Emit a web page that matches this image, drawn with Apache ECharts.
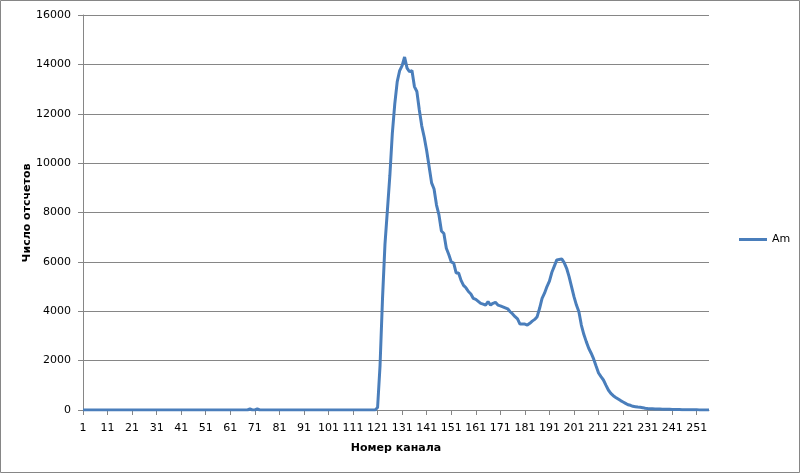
<!DOCTYPE html>
<html>
<head>
<meta charset="utf-8">
<script src="https://cdn.jsdelivr.net/npm/echarts@6/dist/echarts.min.js"></script>
<style>
html,body{margin:0;padding:0;background:#fff;}
#c{width:800px;height:474px;}
</style>
</head>
<body>
<div id="c"></div>
<script>
var seriesName = 'Am';
var xTitle = 'Номер канала';
var yTitle = 'Число отсчетов';
var yTicks = [0, 2000, 4000, 6000, 8000, 10000, 12000, 14000, 16000];
var counts = [
  0,0,0,0,0,0,0,0,0,0,
  0,0,0,0,0,0,0,0,0,0,
  0,0,0,0,0,0,0,0,0,0,
  0,0,0,0,0,0,0,0,0,0,
  0,0,0,0,0,0,0,0,0,0,
  0,0,0,0,0,0,0,0,0,0,
  0,0,0,0,0,0,0,0,40,0,
  0,40,0,0,0,0,0,0,0,0,
  0,0,0,0,0,0,0,0,0,0,
  0,0,0,0,0,0,0,0,0,0,
  0,0,0,0,0,0,0,0,0,0,
  0,0,0,0,0,0,0,0,0,0,
  100,1800,4500,6700,8100,9500,11200,12400,13300,13750,
  13950,14300,13850,13700,13750,13100,12900,12150,11500,11050,
  10500,9850,9200,8950,8300,7900,7250,7150,6550,6300,
  6000,5950,5550,5550,5250,5050,4950,4800,4700,4520,
  4480,4400,4320,4290,4250,4390,4250,4320,4360,4250,
  4220,4180,4140,4100,3980,3890,3780,3690,3480,3480,
  3480,3440,3510,3600,3670,3780,4120,4520,4730,5000,
  5220,5580,5830,6080,6100,6120,5970,5740,5400,5000,
  4590,4250,3980,3440,3065,2770,2500,2300,2070,1780,
  1500,1350,1215,1010,810,675,580,510,445,380,
  325,270,215,190,150,135,120,110,95,70,
  60,55,50,45,40,40,35,35,30,30,
  25,25,20,20,15,15,15,10,10,10,
  10,5,5,5,5,5
];
var channels = [];
for (var i = 1; i <= counts.length; i++) channels.push(String(i));

var chart = echarts.init(document.getElementById('c'), null, {renderer: 'canvas'});
var font = 'DejaVu Sans';
chart.setOption({
  animation: false,
  backgroundColor: '#fff',
  textStyle: {fontFamily: font},
  graphic: [{
    type: 'rect', shape: {x: 0.5, y: 0.5, width: 799, height: 472},
    style: {fill: 'none', stroke: '#868686', lineWidth: 1}, silent: true
  }, {
    type: 'text', x: 27, y: 213, rotation: Math.PI / 2, silent: true,
    style: {text: yTitle, font: 'bold 11px "DejaVu Sans"', fill: '#000',
      align: 'center', verticalAlign: 'middle'}
  }],
  grid: {left: 83, right: 91, top: 15, bottom: 64, containLabel: false},
  legend: {
    left: 734, top: 229, itemWidth: 28, itemHeight: 3, itemGap: 4,
    icon: 'rect',
    data: [seriesName],
    textStyle: {fontFamily: font, fontSize: 11, color: '#000'}
  },
  xAxis: {
    type: 'category', data: channels, boundaryGap: false,
    name: xTitle, nameLocation: 'middle', nameGap: 33,
    nameTextStyle: {fontFamily: font, fontSize: 11, fontWeight: 'bold', color: '#000'},
    axisLine: {lineStyle: {color: '#868686', width: 1}},
    axisTick: {interval: 9, length: 5, lineStyle: {color: '#868686'}},
    axisLabel: {interval: 9, margin: 13, fontFamily: font, fontSize: 11, color: '#000'},
    splitLine: {show: false}
  },
  yAxis: {
    type: 'value', min: yTicks[0], max: yTicks[yTicks.length - 1], interval: 2000,
    axisLine: {show: true, lineStyle: {color: '#868686', width: 1}},
    axisTick: {show: true, length: 5, lineStyle: {color: '#868686'}},
    axisLabel: {margin: 12, fontFamily: font, fontSize: 11, color: '#000',
      formatter: function (v) { return String(v); }},
    splitLine: {show: true, lineStyle: {color: '#868686', width: 1}}
  },
  series: [{
    name: seriesName, type: 'line', data: counts,
    symbol: 'none', smooth: false,
    lineStyle: {color: '#4a7ebb', width: 3},
    itemStyle: {color: '#4a7ebb'}
  }]
});
</script>
</body>
</html>
